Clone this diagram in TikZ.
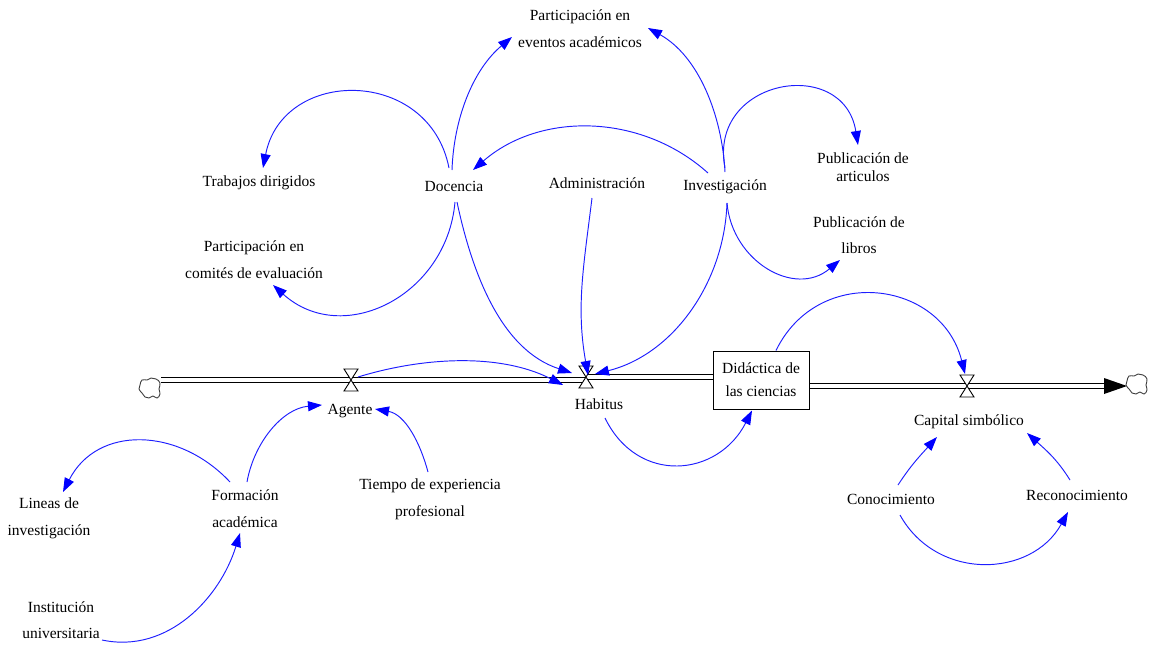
\documentclass[tikz,border=0pt]{standalone}
\usepackage{fontspec}
\setmainfont{Liberation Serif}
\usetikzlibrary{arrows.meta,calc}

\tikzset{
  lbl/.style={font=\fontsize{15.5}{26.5}\selectfont, align=center, inner sep=0pt, text=black},
  stockbox/.style={lbl, draw=black, line width=1pt, fill=white, minimum width=96pt, minimum height=58pt},
  conn/.style={draw={rgb,255:red,30;green,30;blue,255}, line width=0.95pt,
    -{Triangle[length=14pt,width=10pt,fill=blue,color=blue]}},
  pipe/.style={draw=black, double=white, double distance=3.6pt, line width=1.2pt},
  pics/valve/.style={code={
    \draw[black, line width=0.9pt, fill=white]
      (-7,11) -- (7,11) -- (0,0) -- cycle
      (-7,-11) -- (7,-11) -- (0,0) -- cycle;}},
  pics/sourcecloud/.style={code={
    \draw[black!75, line width=0.9pt, fill=white] plot[smooth cycle, tension=0.8] coordinates {
      (-10,3) (-8,8) (-3,8) (1,10) (6,9) (10,5) (9,-1) (10,-6) (7,-10)
      (3,-8) (-1,-10) (-5,-9) (-8,-5) (-11,-1)};}}
}

\begin{document}
\begin{tikzpicture}[x=1pt,y=1pt]
\useasboundingbox (0,0) rectangle (1149,-646);

% auxiliary variables
\node[lbl] (pe)  at (580,-28.5) {Participación en\\eventos académicos};
\node[lbl] (td)  at (259,-183)  {Trabajos dirigidos};
\node[lbl] (doc) at (454,-186)  {Docencia};
\node[lbl] (adm) at (597,-183)  {Administración};
\node[lbl] (inv) at (725,-187)  {Investigación};
\node[lbl] (pa)  at (863,-167)  {Publicación de\\[-8pt]articulos};
\node[lbl] (pl)  at (859,-235)  {Publicación de\\libros};
\node[lbl] (pc)  at (254,-259.5) {Participación en\\comités de evaluación};
\node[lbl] (hab) at (599,-404)  {Habitus};
\node[lbl] (ag)  at (350,-411)  {Agente};
\node[lbl] (cs)  at (969,-422)  {Capital simbólico};
\node[lbl] (con) at (891,-499)  {Conocimiento};
\node[lbl] (rec) at (1077,-495) {Reconocimiento};
\node[lbl] (fa)  at (245,-508.5) {Formación\\académica};
\node[lbl] (li)  at (49,-518.5) {Lineas de\\investigación};
\node[lbl] (te)  at (430,-499.5) {Tiempo de experiencia\\profesional};
\node[lbl] (iu)  at (61,-620)   {Institución\\universitaria};

% flow skeleton
\coordinate (vL) at (351,-380);
\coordinate (vH) at (586,-377);
\coordinate (vR) at (967,-386);
\coordinate (cloudL) at (150,-388);
\coordinate (cloudR) at (1137,-384);
\coordinate (pipeEnd) at ($(cloudR |- vR)+(-33,0)$);

\draw[pipe] ($(cloudL |- vL)+(11,0)$) -- (vL) -- (vL -| vH);
\draw[pipe] (vH) -- ($(vH)+(127,0)$);
\draw[pipe] ($(vR)+(-158,0)$) -- (vR) -- (pipeEnd);
\fill[black] ($(pipeEnd)+(0,8)$) -- ($(pipeEnd)+(23,0)$) -- ($(pipeEnd)+(0,-8)$) -- cycle;

\node[stockbox] (did) at (761,-380) {Didáctica de\\[-3.5pt]las ciencias};

\pic at (cloudL) {sourcecloud};
\pic at (cloudR) {sourcecloud};
\pic at (vL) {valve};
\pic at (vH) {valve};
\pic at (vR) {valve};

% causal links
\draw[conn] ($(doc)+(-2,16)$) to[out=88,in=220,looseness=0.9] ($(pe)+(-68,-8.5)$);
\draw[conn] ($(inv)+(0,15)$) to[out=93,in=-29,looseness=0.9] ($(pe)+(68,0.5)$);
\draw[conn] ($(doc)+(-5,18)$) to[out=101,in=79,looseness=1.42] ($(td)+(4,15)$);
\draw[conn] ($(doc)+(1,-16)$) to[out=265,in=318,looseness=1.2] ($(pc)+(19,-25.5)$);
\draw[conn] ($(inv)+(-17,14)$) to[out=138,in=41,looseness=0.97] ($(doc)+(19,16)$);
\draw[conn] ($(inv)+(0,19)$) to[out=101,in=99,looseness=1.73] ($(pa)+(-5,22)$);
\draw[conn] ($(inv)+(2,-16)$) to[out=275,in=220,looseness=1.19] ($(pl)+(-19,-25)$);
\draw[conn] ($(doc)+(3,-16)$) to[out=282,in=162,looseness=0.92] ($(vH)+(-14,4)$);
\draw[conn] ($(adm)+(-5,-15)$) to[out=263,in=100,looseness=1] ($(vH)+(2,2)$);
\draw[conn] ($(inv)+(2,-16)$) to[out=268,in=14,looseness=0.95] ($(vH)+(9,3)$);
\draw[conn] ($(vL)+(7,3)$) to[out=17,in=153,looseness=0.87] ($(vH)+(-23,-8)$);
\draw[conn] ($(hab)+(6,-14)$) to[out=296,in=243,looseness=1.3] ($(did.south)+(-9,-1)$);
\draw[conn] ($(did.north)+(15,0)$) to[out=64,in=104,looseness=1.3] ($(vR)+(-2,12)$);
\draw[conn] ($(fa)+(2,26.5)$) to[out=80,in=185,looseness=0.95] ($(ag)+(-28,6)$);
\draw[conn] ($(te)+(-2,27.5)$) to[out=105,in=-10,looseness=0.95] ($(ag)+(25,2)$);
\draw[conn] ($(fa)+(-15,26.5)$) to[out=133,in=63,looseness=1.15] ($(li)+(14,26.5)$);
\draw[conn] ($(iu)+(41,-20)$) to[out=-12,in=253,looseness=0.99] ($(fa)+(-5,-24.5)$);
\draw[conn] ($(con)+(7,14)$) to[out=57,in=228] ($(cs)+(-32,-15)$);
\draw[conn] ($(rec)+(-7,15)$) to[out=122,in=-42] ($(cs)+(58,-11)$);
\draw[conn] ($(con)+(9,-16)$) to[out=-61,in=241,looseness=1.15] ($(rec)+(-9,-17)$);
\end{tikzpicture}
\end{document}
